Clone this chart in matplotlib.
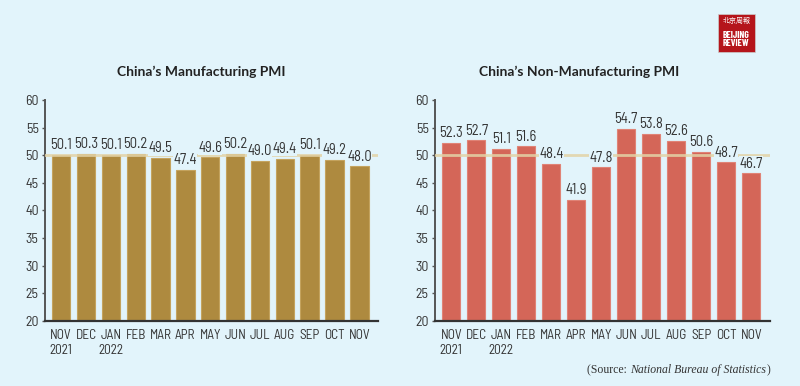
import matplotlib.pyplot as plt
from matplotlib.patches import Rectangle

# data
meses = ["NOV\n2021", "DEC", "JAN\n2022", "FEB", "MAR", "APR", "MAY",
         "JUN", "JUL", "AUG", "SEP", "OCT", "NOV"]
pmi_manufatura = [50.1, 50.3, 50.1, 50.2, 49.5, 47.4, 49.6, 50.2, 49.0, 49.4, 50.1, 49.2, 48.0]
pmi_nao_manufatura = [52.3, 52.7, 51.1, 51.6, 48.4, 41.9, 47.8, 54.7, 53.8, 52.6, 50.6, 48.7, 46.7]
titulos = ["China’s Manufacturing PMI", "China’s Non-Manufacturing PMI"]

fundo = "#e2f4fb"
cor_texto = "#333333"
estreita = ["Barlow Semi Condensed", "Open Sans", "DejaVu Sans"]
plt.rcParams["font.family"] = estreita

fig = plt.figure(figsize=(8, 3.86), dpi=100, facecolor=fundo)

ax1 = fig.add_axes([0.05625, 0.1684, 0.41625, 0.5726])
ax2 = fig.add_axes([0.54375, 0.1684, 0.41875, 0.5726])

configs = [
    (ax1, pmi_manufatura, "#ae8a3f", "#c4a35e"),
    (ax2, pmi_nao_manufatura, "#d46658", "#e08376"),
]

for ax, valores, cor, borda in configs:
    ax.set_facecolor(fundo)
    x = range(len(valores))
    ax.bar(x, [v - 20 for v in valores], bottom=20, width=0.74,
           color=cor, edgecolor=borda, linewidth=0.8, zorder=2)
    ax.axhline(50, color="#e3d3a6", lw=2, alpha=0.85, zorder=3)
    for i, v in enumerate(valores):
        ax.annotate(f"{v:.1f}", (i, v), xytext=(0, 2), textcoords="offset points",
                    ha="center", va="bottom", fontsize=10.5, color=cor_texto, zorder=4,
                    bbox=dict(boxstyle="square,pad=0.02", fc=fundo, ec="none"))
    ax.set_xlim(-0.65, 12.75)
    ax.set_ylim(20, 60)
    ax.set_yticks(range(20, 61, 5))
    ax.set_xticks(list(x))
    ax.set_xticklabels(meses, fontsize=9.5, color=cor_texto, linespacing=1.15)
    ax.tick_params(axis="x", length=0, pad=6)
    ax.tick_params(axis="y", length=2.5, width=1, color="#555555",
                   labelsize=10, labelcolor=cor_texto, pad=2)
    for lado in ["top", "right"]:
        ax.spines[lado].set_visible(False)
    ax.spines["left"].set_color("#555555")
    ax.spines["left"].set_linewidth(1.4)
    ax.spines["bottom"].set_color("#333333")
    ax.spines["bottom"].set_linewidth(1.6)

titulo_fonte = ["Lato", "DejaVu Sans"]
fig.text(0.251, 0.813, titulos[0], ha="center", va="center", fontsize=10,
         fontweight="bold", color="#222222", family=titulo_fonte)
fig.text(0.724, 0.813, titulos[1], ha="center", va="center", fontsize=10,
         fontweight="bold", color="#222222", family=titulo_fonte)

# fonte
fig.canvas.draw()
renderer = fig.canvas.get_renderer()
fonte = dict(family=["Liberation Serif", "DejaVu Serif"], fontsize=8.5, color=cor_texto)
x_fim = 0.9625
y_fonte = 0.033
t3 = fig.text(x_fim, y_fonte, ")", ha="right", va="baseline", **fonte)
w3 = t3.get_window_extent(renderer).width / fig.bbox.width
t2 = fig.text(x_fim - w3, y_fonte, "National Bureau of Statistics", ha="right",
              va="baseline", style="italic", **fonte)
w2 = t2.get_window_extent(renderer).width / fig.bbox.width
fig.text(x_fim - w3 - w2, y_fonte, "(Source: ", ha="right", va="baseline", **fonte)

# logo
fig.patches.append(Rectangle((0.8975, 0.865), 0.046, 0.1, transform=fig.transFigure,
                             facecolor="#b5151b", edgecolor="#cccccc", lw=0.5))
fig.text(0.9205, 0.946, "北京周報", ha="center", va="center", fontsize=5, color="white",
         family=["Noto Sans CJK SC", "DejaVu Sans"])
fig.text(0.9205, 0.897, "BEIJING\nREVIEW", ha="center", va="center", fontsize=7,
         color="white", fontweight="bold", linespacing=0.85,
         family=["Barlow Condensed", "Roboto", "DejaVu Sans"])

fig.savefig("out.png", dpi=100, facecolor=fundo)
